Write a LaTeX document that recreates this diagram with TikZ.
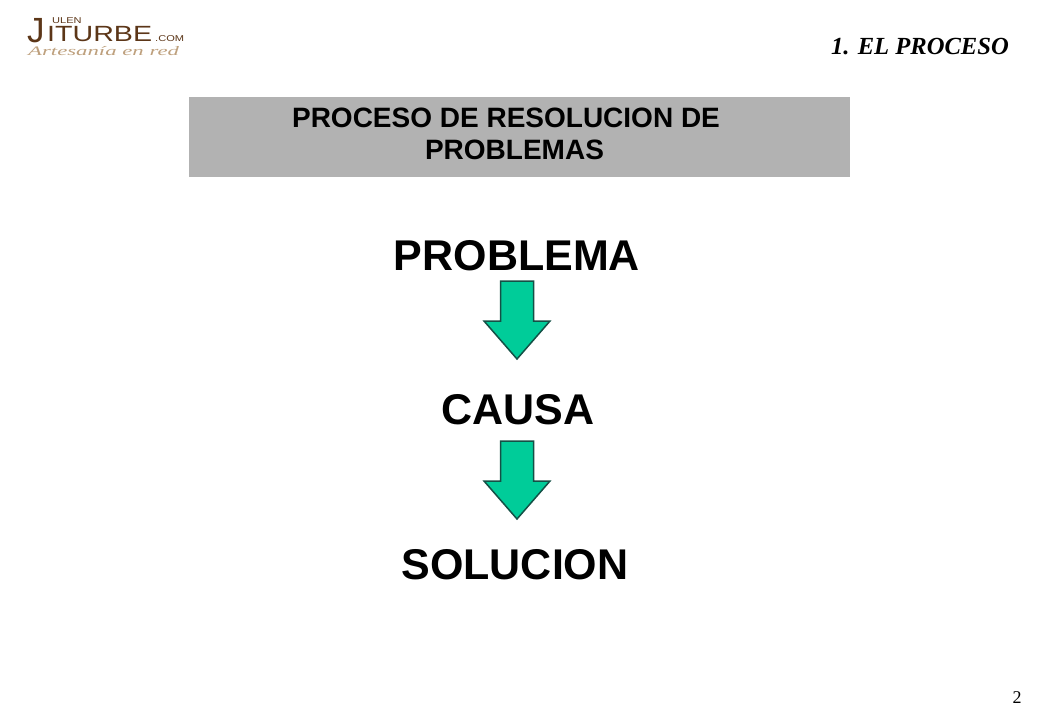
\documentclass[tikz,border=0pt]{standalone}
\usepackage{fontspec}
\setmainfont{Liberation Sans}
\newfontfamily\serifsf{Liberation Serif}
\newfontfamily\logoplain{Liberation Sans}
\newfontfamily\logofont[FakeStretch=1.3]{Liberation Sans}
\newfontfamily\logoscript[FakeStretch=1.75]{Liberation Serif}
\definecolor{bandgrey}{RGB}{178,178,178}
\definecolor{arrowfill}{RGB}{0,204,153}
\definecolor{arrowline}{RGB}{20,80,70}
\definecolor{logobrown}{RGB}{92,54,24}
\definecolor{logotan}{RGB}{190,160,125}
\tikzset{
  x=1pt,y=-1pt,
  bigtext/.style={font=\fontsize{43}{50}\selectfont\bfseries,text=black,inner sep=0pt,anchor=center},
  downarrow/.style={draw=arrowline,line width=1.5pt,fill=arrowfill,line join=miter},
  logotext/.style={text=logobrown,inner sep=0pt,anchor=base west},
}
\newcommand{\greenarrow}[1]{%
  \draw[downarrow] (500.5,#1) -- (533.5,#1) -- (533.5,#1+40) -- (550,#1+40) -- (517,#1+78) -- (484,#1+40) -- (500.5,#1+40) -- cycle;}
\begin{document}
\begin{tikzpicture}
\useasboundingbox (0,0) rectangle (1040,720);
\fill[white] (0,0) rectangle (1040,720);
% logo
\node[logotext,font=\logoplain\fontsize{35}{35}\selectfont] (logoj) at (27,42) {J};
\node[logotext,font=\logofont\fontsize{8.5}{9}\selectfont] (logoulen) at (52,23) {ULEN};
\node[logotext,font=\logofont\fontsize{22}{22}\selectfont] (logoit) at (47,41) {ITURBE};
\node[logotext,font=\logofont\fontsize{8.5}{9}\selectfont] (logocom) at (155,41) {.COM};
\node[logotext,text=logotan,font=\logoscript\itshape\fontsize{13}{13}\selectfont] (logotag) at (28,55) {Artesanía en red};
% heading
\node[font=\serifsf\itshape\bfseries\fontsize{24.6}{28}\selectfont,inner sep=0pt,anchor=east] (section) at (1009,47) {1. EL PROCESO};
\node[draw=none,fill=bandgrey,minimum width=661pt,minimum height=80pt,inner sep=0pt,anchor=north west] (band) at (189,97) {};
\node[font=\fontsize{28}{32}\selectfont\bfseries,align=center,inner sep=0pt] (title) at (506,134) {PROCESO DE RESOLUCION DE\\\hspace*{17pt}PROBLEMAS};
% flow
\node[bigtext] (problema) at (517,256) {PROBLEMA};
\node[bigtext] (causa) at (518,410) {CAUSA};
\node[bigtext] (solucion) at (515,565) {SOLUCION};
\greenarrow{281}
\greenarrow{441}
\node[font=\serifsf\fontsize{18}{20}\selectfont,inner sep=0pt] (page) at (1017,698) {2};
\end{tikzpicture}
\end{document}
